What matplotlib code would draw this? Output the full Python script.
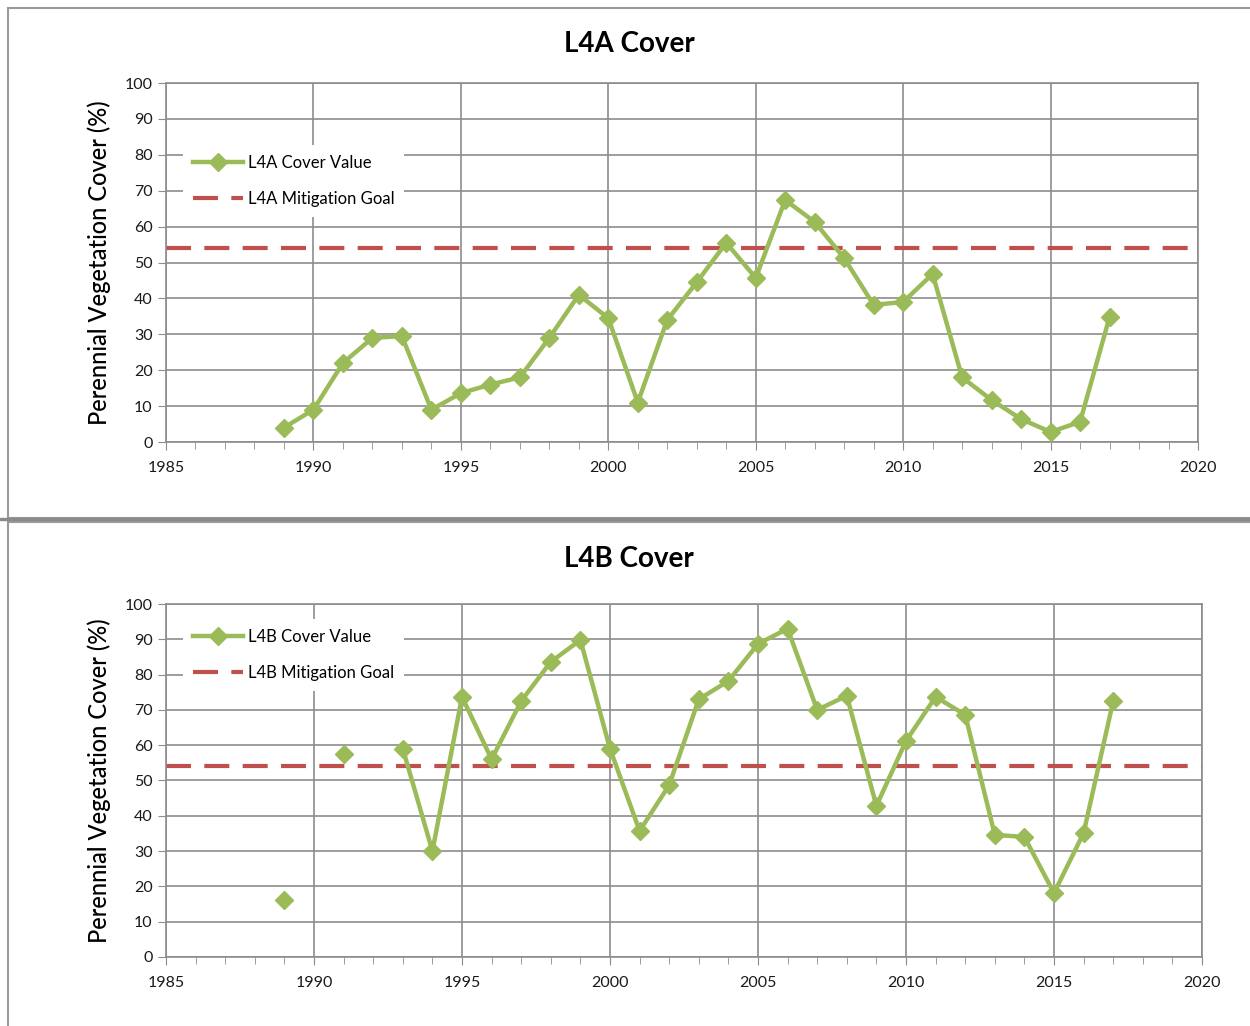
import numpy as np
import matplotlib.pyplot as plt
from matplotlib.patches import Rectangle
from matplotlib.ticker import MultipleLocator

# === Data ===
years = list(range(1989, 2018))

l4a_cover = [4, 9, 22, 29, 29.5, 9, 13.6, 16, 18, 29, 41, 34.5, 11, 34, 44.5,
             55.5, 45.7, 67.4, 61.3, 51.2, 38.2, 39, 46.8, 18, 11.7, 6.4, 2.8, 5.6, 34.8]
l4b_cover = [16.1, np.nan, 57.5, np.nan, 59, 30, 73.7, 56, 72.5, 83.6, 89.8, 59,
             35.7, 48.7, 73, 78.2, 88.7, 93, 70, 74, 42.8, 61.2, 73.7, 68.6, 34.6,
             34, 18.1, 35.1, 72.5]
l4a_goal = 54
l4b_goal = 54

GREEN = "#9BBB59"
RED = "#C0504D"
GRID = "#8c8c8c"
W, H = 1250, 1026

plt.rcParams['font.family'] = ['Lato', 'DejaVu Sans']


def draw_panel(ax, values, goal, name, title_y, legend_y):
    ax.plot(years, values, color=GREEN, lw=3.2, marker="D", ms=9,
            label=f"{name} Cover Value", zorder=3)
    ax.axhline(goal, color=RED, lw=3, dashes=(6, 3.2),
               label=f"{name} Mitigation Goal", zorder=2)

    ax.set_xlim(1985, 2020)
    ax.set_ylim(0, 100)
    ax.xaxis.set_major_locator(MultipleLocator(5))
    ax.xaxis.set_minor_locator(MultipleLocator(1))
    ax.yaxis.set_major_locator(MultipleLocator(10))
    ax.grid(True, which="major", color=GRID, lw=1.2)
    ax.set_axisbelow(True)
    for side in ["left", "bottom", "right", "top"]:
        ax.spines[side].set_color(GRID)
        ax.spines[side].set_linewidth(1.2)
    ax.tick_params(axis="both", which="major", length=6, color=GRID,
                   labelsize=11.5, labelcolor="#1a1a1a")
    ax.tick_params(axis="x", which="minor", length=5, color=GRID)
    ax.tick_params(axis="x", which="major", length=6, pad=8)
    ax.set_ylabel("Perennial Vegetation Cover (%)", fontsize=17, labelpad=10,
                  fontweight="medium")

    fig.text(629 / W, 1 - title_y / H, f"{name} Cover", fontsize=20,
             fontweight="bold", ha="center", va="center")

    leg = ax.legend(loc="upper left", bbox_to_anchor=(0.008, legend_y),
                    fontsize=12, frameon=True, facecolor="white",
                    edgecolor="none", framealpha=1, fancybox=False,
                    handlelength=3.0, labelspacing=1.2, handletextpad=0.3,
                    borderpad=0.6)
    leg.get_frame().set_linewidth(0)


fig = plt.figure(figsize=(12.5, 10.26), dpi=100)

# panel boxes
fig.patches.append(Rectangle((8 / W, 1 - 518 / H), 1.2, 510 / H,
                             transform=fig.transFigure, fill=False,
                             edgecolor="#9a9a9a", lw=1.5))
fig.patches.append(Rectangle((8 / W, -0.05), 1.2, (H - 522) / H + 0.05,
                             transform=fig.transFigure, fill=False,
                             edgecolor="#9a9a9a", lw=1.5))
fig.patches.append(Rectangle((0, 1 - 520 / H), 1, 2 / H,
                             transform=fig.transFigure, color="#8a8a8a"))

ax1 = fig.add_axes([0.1328, 0.5692, 0.8256, 0.3499])
ax2 = fig.add_axes([0.1328, 0.0673, 0.8288, 0.3440])

draw_panel(ax1, l4a_cover, l4a_goal, "L4A", 44, 0.85)
draw_panel(ax2, l4b_cover, l4b_goal, "L4B", 559, 0.982)

fig.savefig("out.png", dpi=100)
